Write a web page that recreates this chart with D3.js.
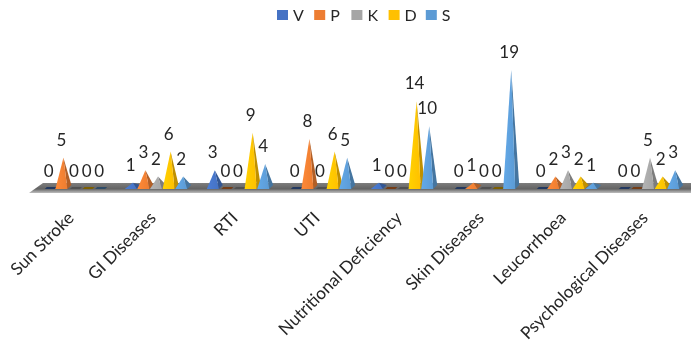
<!DOCTYPE html>
<html><head><meta charset="utf-8">
<script src="https://cdn.jsdelivr.net/npm/d3@7"></script>
<style>html,body{margin:0;padding:0;background:#fff;overflow:hidden}svg{display:block}text{font-family:Lato,"Open Sans",sans-serif;fill:#262626}</style>
</head><body><svg id="c" width="691" height="345"></svg>
<script>
const categories=["Sun Stroke","GI Diseases","RTI","UTI","Nutritional Deficiency","Skin Diseases","Leucorrhoea","Psychological Diseases"];
const seriesNames=["V","P","K","D","S"];
const seriesColors=["#4472C4","#ED7D31","#A5A5A5","#FFC000","#5B9BD5"];
const V=[0,1,3,0,1,0,0,0];
const P=[5,3,0,8,0,1,2,0];
const K=[0,2,0,0,0,0,3,5];
const D=[0,6,9,6,14,0,2,2];
const S=[0,2,4,5,10,19,1,3];
const seriesValues=[V,P,K,D,S];

const svg=d3.select("#c");
const defs=svg.append("defs");
defs.append("filter").attr("id","soft").append("feGaussianBlur").attr("stdDeviation",0.55);
defs.append("filter").attr("id","softT").append("feGaussianBlur").attr("stdDeviation",0.35);
const fg=defs.append("linearGradient").attr("id","floor").attr("x1",0).attr("x2",0).attr("y1",0).attr("y2",1);
[[0,"#7d7d7d"],[0.6,"#636363"],[0.78,"#8f8f8f"],[1,"#bdbdbd"]].forEach(s=>fg.append("stop").attr("offset",s[0]).attr("stop-color",s[1]));
seriesColors.forEach((c,i)=>{
  const g=defs.append("linearGradient").attr("id","f"+i).attr("x1",0).attr("x2",1).attr("y1",0).attr("y2",0);
  g.append("stop").attr("offset",0).attr("stop-color",d3.color(c).brighter(0.25));
  g.append("stop").attr("offset",1).attr("stop-color",c);
});

const x0=d3.scaleBand().domain(categories).range([35,691]);
const x1=d3.scaleBand().domain(seriesNames).range([0,63]);
const offset=(x0.bandwidth()-63)/2;
const y=d3.scaleLinear().domain([0,19]).range([189,70]);
const cx=(ci,si)=>x0(categories[ci])+offset+x1(seriesNames[si])+x1.bandwidth()/2;

const marks=svg.append("g").attr("filter","url(#soft)");
marks.append("path").attr("fill","url(#floor)")
  .attr("d",`M${x0.range()[0]+8},183L691,183L691,193L${x0.range()[0]-6},193Z`);

const items=[];
seriesValues.forEach((vals,si)=>vals.forEach((v,ci)=>items.push({v,si,ci,x:cx(ci,si)})));
const base=y(0);
marks.selectAll("g.m").data(items).join("g").attr("class","m").each(function(d){
  const g=d3.select(this),c=seriesColors[d.si],top=y(d.v);
  if(d.v===0){
    g.append("path").attr("fill",d3.color(c).darker(2))
      .attr("d",`M${d.x-6},189L${d.x+4},189L${d.x+6},187L${d.x-4},187Z`);
  }else{
    g.append("path").attr("fill",d3.color(c).darker(0.8))
      .attr("d",`M${d.x+4},${base}L${d.x+8},${base-4}L${d.x},${top}Z`);
    g.append("path").attr("fill",`url(#f${d.si})`)
      .attr("d",`M${d.x-8},${base}L${d.x+4},${base}L${d.x},${top}Z`);
  }
});

const tg=svg.append("g").attr("filter","url(#softT)");
tg.selectAll("text.v").data(items).join("text").attr("class","v")
  .attr("x",d=>d.x-2).attr("y",d=>y(d.v)-18).attr("dy","0.36em")
  .attr("text-anchor","middle").attr("font-size",17).text(d=>d.v);

const axis=tg.append("g").attr("transform","translate(0,200)").call(d3.axisBottom(x0).tickSize(0));
axis.select(".domain").remove();
axis.selectAll("text").attr("font-size",17.2).attr("fill","#262626")
  .attr("text-anchor","end").attr("dx",0).attr("dy",0).attr("y",0).attr("x",0)
  .attr("transform","translate(-1,19) rotate(-45)");

const legend=tg.selectAll("g.l").data(seriesNames).join("g").attr("class","l")
  .attr("transform",(d,i)=>`translate(${277+i*37.2},10)`);
legend.append("rect").attr("width",11).attr("height",10).attr("fill",(d,i)=>seriesColors[i]);
legend.append("text").attr("x",16).attr("y",5).attr("dy","0.36em").attr("font-size",16).text(d=>d);
</script></body></html>
